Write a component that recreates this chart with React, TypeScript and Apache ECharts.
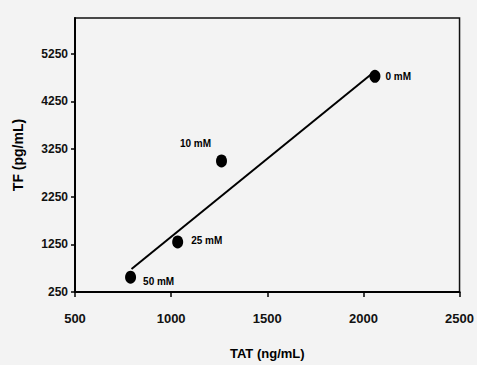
import React, { useEffect, useRef } from "react";
import * as echarts from "echarts";

// Data
const concentrations = ["0 mM", "10 mM", "25 mM", "50 mM"];
const tatValues = [2060, 1262, 1034, 789]; // TAT (ng/mL)
const tfValues = [4775, 3000, 1300, 560]; // TF (pg/mL)

// Regression line endpoints
const trendX = [794, 2044];
const trendY = [731, 4830];

// Axis ticks
const xTicks = [500, 1000, 1500, 2000, 2500];
const yTicks = [250, 1250, 2250, 3250, 4250, 5250];

// Label placement per point (style only)
const labelPlacement: Record<string, { position: string; distance: number; offset: number[] }> = {
  "0 mM": { position: "right", distance: 5, offset: [0, 0] },
  "10 mM": { position: "left", distance: 5, offset: [0, -17] },
  "25 mM": { position: "right", distance: 8, offset: [0, -1] },
  "50 mM": { position: "right", distance: 7, offset: [0, 4] },
};

const FONT = "'Liberation Sans', Arial, sans-serif";

export default function App() {
  const ref = useRef<HTMLDivElement>(null);

  useEffect(() => {
    if (!ref.current) return;
    const chart = echarts.init(ref.current, undefined, { renderer: "svg" });

    const scatterData = concentrations.map((c, i) => {
      const p = labelPlacement[c];
      return {
        value: [tatValues[i], tfValues[i]],
        name: c,
        label: {
          show: true,
          formatter: c,
          position: p.position,
          distance: p.distance,
          offset: p.offset,
        },
      };
    });

    chart.setOption({
      animation: false,
      backgroundColor: "#f3f3f3",
      textStyle: { fontFamily: FONT },
      grid: {
        left: 75,
        right: 16,
        top: 18,
        bottom: 70,
        show: true,
        borderColor: "#111",
        borderWidth: 1.5,
        backgroundColor: "transparent",
      },
      xAxis: {
        type: "value",
        min: xTicks[0],
        max: xTicks[xTicks.length - 1],
        interval: 500,
        name: "TAT (ng/mL)",
        nameLocation: "middle",
        nameGap: 55,
        nameTextStyle: { fontFamily: FONT, fontWeight: "bold", fontSize: 13, color: "#000" },
        splitLine: { show: false },
        axisLine: { show: true, lineStyle: { color: "#000", width: 2 } },
        axisTick: { show: true, inside: false, length: 5, lineStyle: { color: "#000", width: 1.5 } },
        axisLabel: {
          formatter: (v: number) => String(v),
          fontFamily: FONT,
          fontWeight: "bold",
          fontSize: 13,
          color: "#111",
          margin: 20,
        },
      },
      yAxis: {
        type: "value",
        min: 250,
        max: 6000,
        name: "TF (pg/mL)",
        nameLocation: "middle",
        nameGap: 50,
        nameTextStyle: { fontFamily: FONT, fontWeight: "bold", fontSize: 14, color: "#000" },
        splitLine: { show: false },
        axisLine: { show: true, lineStyle: { color: "#000", width: 2 } },
        axisTick: {
          show: true,
          length: 4,
          customValues: yTicks,
          lineStyle: { color: "#000", width: 1.5 },
        },
        axisLabel: {
          customValues: yTicks,
          formatter: (v: number) => String(v),
          fontFamily: FONT,
          fontWeight: "bold",
          fontSize: 12,
          color: "#111",
          margin: 7,
        },
      },
      series: [
        {
          type: "line",
          data: trendX.map((x, i) => [x, trendY[i]]),
          symbol: "none",
          lineStyle: { color: "#000", width: 2 },
          silent: true,
          z: 2,
        },
        {
          type: "scatter",
          data: scatterData,
          symbol: "circle",
          symbolSize: [11, 13],
          itemStyle: { color: "#000", opacity: 1 },
          label: {
            fontFamily: FONT,
            fontWeight: "bold",
            fontSize: 10,
            color: "#000",
          },
          z: 3,
        },
      ],
    });

    return () => chart.dispose();
  }, []);

  return (
    <div
      ref={ref}
      style={{ position: "fixed", left: 0, top: 0, width: 477, height: 365, background: "#f3f3f3" }}
    />
  );
}
